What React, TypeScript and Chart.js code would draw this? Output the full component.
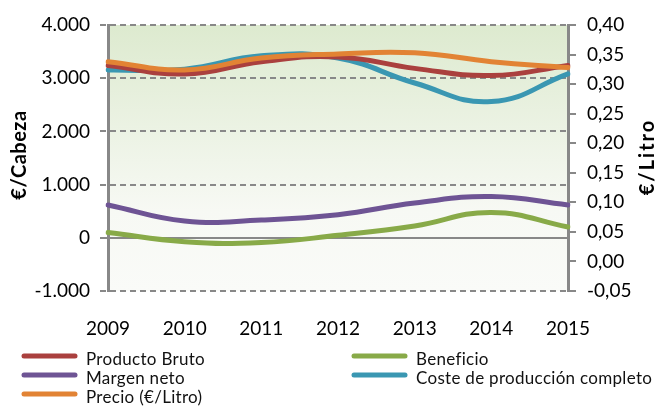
import React, { useEffect, useRef } from "react";
import { Chart, registerables } from "chart.js";

Chart.register(...registerables);

const years = ["2009", "2010", "2011", "2012", "2013", "2014", "2015"];
const productoBruto = [3240, 3080, 3310, 3400, 3185, 3050, 3240];
const margenNeto = [617, 316, 335, 435, 654, 775, 617];
const precioLitro = [0.338, 0.324, 0.344, 0.351, 0.353, 0.338, 0.328];
const beneficio = [100, -73, -88, 47, 222, 476, 203];
const costeCompleto = [3154, 3170, 3420, 3380, 2910, 2560, 3080];

const leftMin = -1000;
const leftMax = 4000;
const leftStep = 1000;
const rightMin = -0.05;
const rightMax = 0.4;
const rightStep = 0.05;

const leftTitle = "€/Cabeza";
const rightTitle = "€/Litro";

const FONT = "Lato, 'DejaVu Sans', sans-serif";

const COLORS = {
  red: "rgb(170,64,62)",
  purple: "rgb(110,84,148)",
  orange: "rgb(226,131,52)",
  green: "rgb(136,170,72)",
  blue: "rgb(58,151,178)",
};

const legendItems = [
  { label: "Producto Bruto", color: COLORS.red, col: 0, row: 0 },
  { label: "Margen neto", color: COLORS.purple, col: 0, row: 1 },
  { label: "Precio (€/Litro)", color: COLORS.orange, col: 0, row: 2 },
  { label: "Beneficio", color: COLORS.green, col: 1, row: 0 },
  { label: "Coste de producción completo", color: COLORS.blue, col: 1, row: 1 },
];

const fmtThousands = (v: number) => {
  const s = Math.abs(Math.round(v)).toString().replace(/\B(?=(\d{3})+(?!\d))/g, ".");
  return (v < 0 ? "-" : "") + s;
};
const fmtComma = (v: number) => {
  const r = Math.round(v * 100) / 100;
  return r.toFixed(2).replace(".", ",");
};

const drawVertical = (ctx: any, text: string, x: number, y: number, spacing: string) => {
  ctx.save();
  ctx.fillStyle = "#000";
  ctx.font = `bold 20px ${FONT}`;
  (ctx as any).letterSpacing = spacing;
  ctx.textAlign = "center";
  ctx.textBaseline = "middle";
  ctx.translate(x, y);
  ctx.rotate(-Math.PI / 2);
  ctx.fillText(text, 0, 0);
  ctx.restore();
};

const decorPlugin = {
  id: "decor",
  beforeDraw(chart: any) {
    const { ctx, chartArea } = chart;
    if (!chartArea) return;
    const g = ctx.createLinearGradient(0, chartArea.top, 0, chartArea.bottom);
    g.addColorStop(0, "rgb(221,234,207)");
    g.addColorStop(0.7, "rgb(247,249,244)");
    g.addColorStop(1, "rgb(250,251,248)");
    ctx.save();
    ctx.fillStyle = g;
    ctx.fillRect(chartArea.left, chartArea.top, chartArea.right - chartArea.left, chartArea.bottom - chartArea.top);
    ctx.restore();
  },
  afterDraw(chart: any) {
    const { ctx } = chart;
    drawVertical(ctx, leftTitle, 20, 155, "0.5px");
    drawVertical(ctx, rightTitle, 648, 157, "2px");

    // legend
    const colX = [22, 352];
    const rowY = [356, 375, 394];
    ctx.save();
    ctx.font = `17px ${FONT}`;
    (ctx as any).letterSpacing = "0.3px";
    ctx.textBaseline = "middle";
    ctx.textAlign = "left";
    legendItems.forEach((it) => {
      const x = colX[it.col];
      const y = rowY[it.row];
      ctx.strokeStyle = it.color;
      ctx.lineWidth = 5;
      ctx.lineCap = "round";
      ctx.beginPath();
      ctx.moveTo(x + 2, y);
      ctx.lineTo(x + 53, y);
      ctx.stroke();
      ctx.fillStyle = "#111";
      ctx.fillText(it.label, x + 64, y + 4);
    });
    ctx.restore();
  },
};

export default function App() {
  const ref = useRef<HTMLCanvasElement | null>(null);
  useEffect(() => {
    if (!ref.current) return;
    const line = (label: string, data: number[], color: string, axis: string, order: number) => ({
      label,
      data,
      borderColor: color,
      backgroundColor: color,
      borderWidth: 5,
      borderCapStyle: "round" as const,
      borderJoinStyle: "round" as const,
      pointRadius: 0,
      pointHoverRadius: 0,
      tension: 0.45,
      fill: false,
      yAxisID: axis,
      order,
    });
    const chart = new Chart(ref.current, {
      type: "line",
      data: {
        labels: years,
        datasets: [
          line("Precio (€/Litro)", precioLitro, COLORS.orange, "y1", 0),
          line("Producto Bruto", productoBruto, COLORS.red, "y", 1),
          line("Coste de producción completo", costeCompleto, COLORS.blue, "y", 2),
          line("Margen neto", margenNeto, COLORS.purple, "y", 3),
          line("Beneficio", beneficio, COLORS.green, "y", 4),
        ],
      },
      options: {
        responsive: false,
        animation: false,
        events: [],
        layout: { padding: { top: 25, left: 0, right: 0, bottom: 0 } },
        plugins: {
          legend: { display: false },
          tooltip: { enabled: false },
          title: { display: false },
        },
        scales: {
          x: {
            type: "category",
            offset: false,
            grid: { display: false, drawTicks: false },
            border: { display: false },
            ticks: {
              color: "#000",
              font: { family: FONT, size: 19 },
              padding: 26,
              maxRotation: 0,
            },
            afterFit: (s: any) => {
              s.height = 116;
            },
          },
          y: {
            type: "linear",
            position: "left",
            min: leftMin,
            max: leftMax,
            ticks: {
              stepSize: leftStep,
              color: "#000",
              font: { family: FONT, size: 19 },
              padding: 10,
              callback: (v: any) => fmtThousands(Number(v)),
            },
            grid: {
              color: "rgb(136,136,136)",
              lineWidth: 2,
              tickLength: 8,
              tickColor: "rgb(136,136,136)",
              tickWidth: 2,
              tickBorderDash: (c: any) => (c.tick && c.tick.value === 0 ? [] : [6, 4]),
            },
            border: {
              display: true,
              color: "rgb(136,136,136)",
              width: 3,
              dash: (c: any) => (c.tick && c.tick.value === 0 ? [] : [6, 4]),
            },
            afterFit: (s: any) => {
              s.width = 108;
            },
          },
          y1: {
            type: "linear",
            position: "right",
            min: rightMin,
            max: rightMax,
            ticks: {
              stepSize: rightStep,
              color: "#000",
              font: { family: FONT, size: 19 },
              padding: 11,
              callback: (v: any) => fmtComma(Number(v)),
            },
            grid: {
              drawOnChartArea: false,
              color: "rgb(136,136,136)",
              lineWidth: 2,
              tickLength: 8,
            },
            border: { display: true, color: "rgb(136,136,136)", width: 3 },
            afterFit: (s: any) => {
              s.width = 89;
            },
          },
        },
      },
      plugins: [decorPlugin],
    } as any);
    return () => chart.destroy();
  }, []);
  return (
    <div style={{ position: "fixed", left: 0, top: 0, width: 657, height: 407, background: "#fff" }}>
      <canvas ref={ref} width={657} height={407} style={{ display: "block" }} />
    </div>
  );
}
